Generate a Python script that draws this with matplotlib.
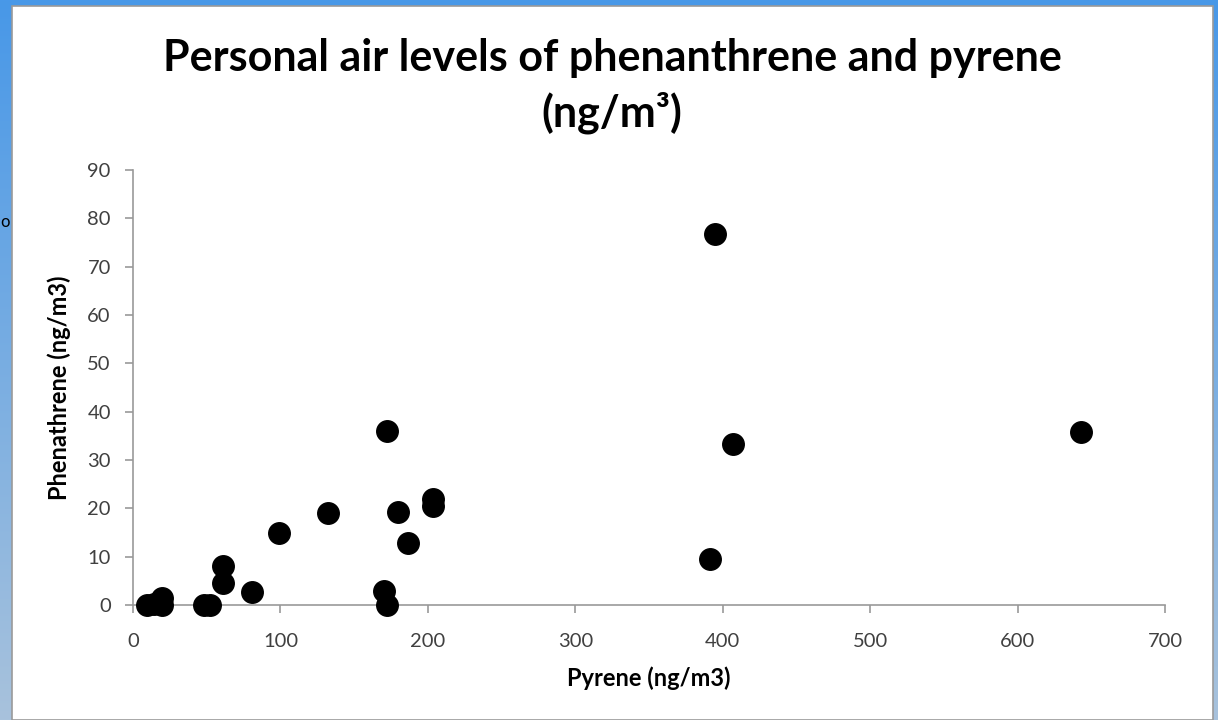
import matplotlib
matplotlib.use("Agg")
import matplotlib.pyplot as plt
import numpy as np
from matplotlib.patches import Rectangle

# values
pyrene = [9.5, 14, 19.8, 19.7, 48, 52, 60.8, 60.8, 80.5, 98.8, 132.3, 170.5,
          172, 172.3, 179.8, 186.8, 203.3, 203.3, 391.4, 394.8, 407, 643]
phenanthrene = [0, 0.3, 1.4, 0, 0, 0, 8.1, 4.5, 2.6, 14.9, 19.0, 3.0,
                0, 36.0, 19.2, 12.9, 21.9, 20.4, 9.5, 76.8, 33.3, 35.8]
x_ticks = [0, 100, 200, 300, 400, 500, 600, 700]
y_ticks = [0, 10, 20, 30, 40, 50, 60, 70, 80, 90]

W, H = 1218, 720
fig = plt.figure(figsize=(W / 100, H / 100), dpi=100)

# blue frame behind the white slide panel
bg = fig.add_axes([0, 0, 1, 1])
grad = np.linspace(0, 1, 256).reshape(-1, 1)
top_c = np.array([0x48, 0x98, 0xe8]) / 255
bot_c = np.array([0xa8, 0xc2, 0xdc]) / 255
img = top_c + (bot_c - top_c) * grad[:, :, None]
bg.imshow(img, aspect="auto", extent=[0, W, H, 0])
bg.add_patch(Rectangle((12, 6), 1201, H - 6, facecolor="white",
                       edgecolor="#9a9a9a", linewidth=1.2))
bg.set_xlim(0, W)
bg.set_ylim(H, 0)
bg.axis("off")
bg.text(0, 222, "o", fontsize=12, fontfamily="Lato", va="center", ha="left")

ax = fig.add_axes([133 / W, 1 - 605 / H, (1165 - 133) / W, (605 - 170) / H])
ax.set_facecolor("none")
ax.scatter(pyrene, phenanthrene, s=240, color="black", zorder=3, clip_on=False)

ax.set_xlim(0, 700)
ax.set_ylim(0, 90)
ax.set_xticks(x_ticks)
ax.set_yticks(y_ticks)
ax.tick_params(direction="out", length=6, width=1.2, color="#999999",
               labelsize=14.5, labelcolor="#404040")
ax.tick_params(axis="x", pad=14)
ax.tick_params(axis="y", pad=10)
for lab in ax.get_xticklabels() + ax.get_yticklabels():
    lab.set_fontfamily("Lato")
for side in ["top", "right"]:
    ax.spines[side].set_visible(False)
for side in ["left", "bottom"]:
    ax.spines[side].set_color("#999999")
    ax.spines[side].set_linewidth(1.2)

ax.set_xlabel("Pyrene (ng/m3)", fontsize=17, fontweight="bold",
              fontfamily="Lato", labelpad=12)
ax.set_ylabel("Phenathrene (ng/m3)", fontsize=17, fontweight="bold",
              fontfamily="Lato", labelpad=12)

fig.text(612 / W, 1 - 86 / H, "Personal air levels of phenanthrene and pyrene\n(ng/m³)",
         ha="center", va="center", fontsize=31, fontweight="bold",
         fontfamily="Lato", linespacing=1.4)

fig.savefig("out.png", dpi=100)
